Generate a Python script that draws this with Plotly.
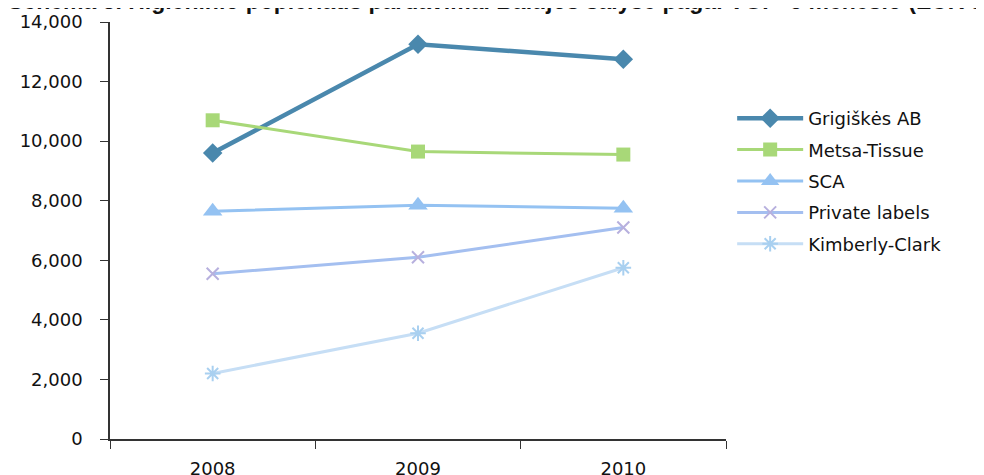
import plotly.graph_objects as go

years = ["2008", "2009", "2010"]
series_names = ["Grigiškės AB", "Metsa-Tissue", "SCA", "Private labels", "Kimberly-Clark"]
grigiskes = [9600, 13250, 12750]
metsa = [10700, 9650, 9550]
sca = [7650, 7850, 7750]
private_labels = [5550, 6100, 7100]
kimberly = [2200, 3550, 5750]
y_ticks = [0, 2000, 4000, 6000, 8000, 10000, 12000, 14000]
title_text = "Schema 3. Higieninio popieriaus pardavimai Baltijos šalyse pagal VGP' 6 mėnesio (EUR t.)"

values = [grigiskes, metsa, sca, private_labels, kimberly]
colors = ["#4a88ad", "#a8d878", "#94c2f2", "#a4bff0", "#c6def5"]
marker_colors = ["#4a88ad", "#a8d878", "#94c2f2", "#b7b0de", "#a9d0f0"]
symbols = ["diamond", "square", "triangle-up", "x-thin", "asterisk"]
sizes = [15, 14, 17, 12, 13]
widths = [4.5, 3, 3, 3, 3]

fig = go.Figure()
for i, (name, vals, c, mc, sym, sz, w) in enumerate(zip(series_names, values, colors, marker_colors, symbols, sizes, widths)):
    marker = dict(symbol=sym, size=sz, color=mc)
    if sym in ("x-thin", "asterisk"):
        marker["line"] = dict(color=mc, width=2)
    fig.add_trace(go.Scatter(x=years, y=vals, name=name, mode="lines+markers", legendgroup=f"g{i}",
                             line=dict(color=c, width=w), marker=marker))

fig.update_layout(
    width=984, height=475,
    margin=dict(l=102, r=266, t=14, b=44),
    plot_bgcolor="white", paper_bgcolor="white",
    font=dict(family="DejaVu Sans", size=18, color="#111111"),
    showlegend=True,
    legend=dict(x=1.01, y=0.813, xanchor="left", yanchor="top",
                font=dict(family="DejaVu Sans", size=18, color="#111111"),
                tracegroupgap=5, itemwidth=66, bgcolor="rgba(0,0,0,0)"),
    annotations=[dict(text="<b>" + title_text + "</b>", xref="paper", yref="paper",
                      x=0, y=1, xanchor="left", yanchor="middle", xshift=-104, yshift=21,
                      showarrow=False, align="left",
                      font=dict(family="Liberation Sans", size=23, color="#111111"))],
)
fig.update_xaxes(type="category", range=[-0.5, 2.5], showline=True, linecolor="#333333", linewidth=1.5,
                 ticks="outside", tickson="boundaries", ticklen=8, tickcolor="#333333",
                 showgrid=False, zeroline=False, ticklabelstandoff=13, automargin=False)
fig.update_yaxes(range=[0, 14000], tickvals=y_ticks, tickformat=",d", showline=True, linecolor="#333333",
                 linewidth=1.5, ticks="outside", ticklen=8, tickcolor="#333333",
                 showgrid=False, zeroline=False, ticklabelstandoff=14, automargin=False)

fig.write_html("out.html")
